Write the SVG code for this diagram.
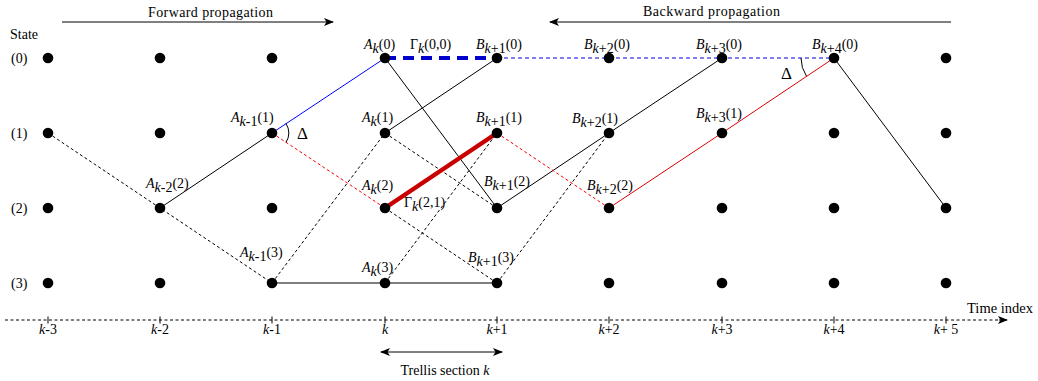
<svg xmlns="http://www.w3.org/2000/svg" width="1038" height="381" viewBox="0 0 1038 381">
<defs>
<style>
text{font-family:"Liberation Serif","Times New Roman",serif;font-size:14px;fill:#000}
.it{font-style:italic}
.dot{fill:#000}
.ln{fill:none;stroke:#000;stroke-width:1}
.dsh{fill:none;stroke:#000;stroke-width:1;stroke-dasharray:3 2.5}
.rd{fill:none;stroke:#f00;stroke-width:1;stroke-dasharray:3 2.5}
.rs{fill:none;stroke:#e00000;stroke-width:1}
.rt{fill:none;stroke:#c80000;stroke-width:4.5}
.bs{fill:none;stroke:#0000ff;stroke-width:1}
.bt{fill:none;stroke:#0000cc;stroke-width:4;stroke-dasharray:11 7}
.bd{fill:none;stroke:#0000dd;stroke-width:1;stroke-dasharray:4 3}
.arr{fill:none;stroke:#000;stroke-width:1}
.dl{font-size:17px}
</style>
<marker id="ah" viewBox="0 0 10 8" refX="9" refY="4" markerWidth="10" markerHeight="8" markerUnits="userSpaceOnUse" orient="auto-start-reverse">
<path d="M0,0 L10,4 L0,8 L2.5,4 Z" fill="#000"/>
</marker>
</defs>
<rect width="1038" height="381" fill="#fff"/>

<g id="headers">
<line class="arr" x1="62" y1="22" x2="333" y2="22" marker-end="url(#ah)"/>
<text x="148" y="17" textLength="125">Forward propagation</text>
<line class="arr" x1="951" y1="22" x2="550" y2="22" marker-end="url(#ah)"/>
<text x="643" y="16" textLength="137">Backward propagation</text>
<text x="10" y="39">State</text>
<text x="11" y="63">(0)</text>
<text x="11" y="138">(1)</text>
<text x="11" y="213">(2)</text>
<text x="11" y="288">(3)</text>
</g>

<g id="connectors">
<path class="dsh" d="M48,133 L160,208 L272,283"/>
<path class="ln" d="M160,208 L272,133"/>
<path class="bs" d="M272,133 L385,58"/>
<path class="rd" d="M272,133 L385,208"/>
<path class="bt" d="M385,58 L497,58"/>
<path class="bd" d="M497,58 L834,58"/>
<path class="ln" d="M385,58 L497,208"/>
<path class="ln" d="M385,133 L497,58"/>
<path class="dsh" d="M385,133 L497,208"/>
<path class="dsh" d="M272,283 L385,133"/>
<path class="rt" d="M385,208 L497,133"/>
<path class="dsh" d="M385,208 L497,283"/>
<path class="dsh" d="M385,283 L497,133"/>
<path class="ln" d="M272,283 L497,283"/>
<path class="dsh" d="M497,283 L609,133"/>
<path class="ln" d="M497,208 L609,133 L722,58"/>
<path class="rd" d="M497,133 L609,208"/>
<path class="rs" d="M609,208 L722,133 L834,58"/>
<path class="ln" d="M834,58 L946,208"/>
<path class="ln" d="M286,123.6 A17,17 0 0 1 286,142.4"/>
<path class="ln" d="M801,58 A33,33 0 0 0 806.5,76.2"/>
<text x="297" y="139" class="dl">Δ</text>
<text x="781" y="79" class="dl">Δ</text>
<text x="410" y="49">Γ<tspan class="it" dy="4">k</tspan><tspan dy="-4">(0,0)</tspan></text>
<text x="404" y="207">Γ<tspan class="it" dy="4">k</tspan><tspan dy="-4">(2,1)</tspan></text>
</g>

<g id="n0_0"><circle class="dot" cx="48" cy="58" r="5.3"/></g>
<g id="n0_1"><circle class="dot" cx="48" cy="133" r="5.3"/></g>
<g id="n0_2"><circle class="dot" cx="48" cy="208" r="5.3"/></g>
<g id="n0_3"><circle class="dot" cx="48" cy="283" r="5.3"/></g>
<g id="n1_0"><circle class="dot" cx="160" cy="58" r="5.3"/></g>
<g id="n1_1"><circle class="dot" cx="160" cy="133" r="5.3"/></g>
<g id="n1_2"><circle class="dot" cx="160" cy="208" r="5.3"/>
<text x="146" y="188"><tspan class="it">A</tspan><tspan class="it" dy="4">k</tspan><tspan>-2</tspan><tspan dy="-4">(2)</tspan></text></g>
<g id="n1_3"><circle class="dot" cx="160" cy="283" r="5.3"/></g>
<g id="n2_0"><circle class="dot" cx="272" cy="58" r="5.3"/></g>
<g id="n2_1"><circle class="dot" cx="272" cy="133" r="5.3"/>
<text x="231" y="122"><tspan class="it">A</tspan><tspan class="it" dy="4">k</tspan><tspan>-1</tspan><tspan dy="-4">(1)</tspan></text></g>
<g id="n2_2"><circle class="dot" cx="272" cy="208" r="5.3"/></g>
<g id="n2_3"><circle class="dot" cx="272" cy="283" r="5.3"/>
<text x="240" y="257"><tspan class="it">A</tspan><tspan class="it" dy="4">k</tspan><tspan>-1</tspan><tspan dy="-4">(3)</tspan></text></g>
<g id="n3_0"><circle class="dot" cx="385" cy="58" r="5.3"/>
<text x="364" y="49"><tspan class="it">A</tspan><tspan class="it" dy="4">k</tspan><tspan dy="-4">(0)</tspan></text></g>
<g id="n3_1"><circle class="dot" cx="385" cy="133" r="5.3"/>
<text x="362" y="122"><tspan class="it">A</tspan><tspan class="it" dy="4">k</tspan><tspan dy="-4">(1)</tspan></text></g>
<g id="n3_2"><circle class="dot" cx="385" cy="208" r="5.3"/>
<text x="362" y="190"><tspan class="it">A</tspan><tspan class="it" dy="4">k</tspan><tspan dy="-4">(2)</tspan></text></g>
<g id="n3_3"><circle class="dot" cx="385" cy="283" r="5.3"/>
<text x="362" y="272"><tspan class="it">A</tspan><tspan class="it" dy="4">k</tspan><tspan dy="-4">(3)</tspan></text></g>
<g id="n4_0"><circle class="dot" cx="497" cy="58" r="5.3"/>
<text x="476" y="49"><tspan class="it">B</tspan><tspan class="it" dy="4">k</tspan><tspan>+1</tspan><tspan dy="-4">(0)</tspan></text></g>
<g id="n4_1"><circle class="dot" cx="497" cy="133" r="5.3"/>
<text x="476" y="122"><tspan class="it">B</tspan><tspan class="it" dy="4">k</tspan><tspan>+1</tspan><tspan dy="-4">(1)</tspan></text></g>
<g id="n4_2"><circle class="dot" cx="497" cy="208" r="5.3"/>
<text x="484" y="186"><tspan class="it">B</tspan><tspan class="it" dy="4">k</tspan><tspan>+1</tspan><tspan dy="-4">(2)</tspan></text></g>
<g id="n4_3"><circle class="dot" cx="497" cy="283" r="5.3"/>
<text x="468" y="262"><tspan class="it">B</tspan><tspan class="it" dy="4">k</tspan><tspan>+1</tspan><tspan dy="-4">(3)</tspan></text></g>
<g id="n5_0"><circle class="dot" cx="609" cy="58" r="5.3"/>
<text x="584" y="49"><tspan class="it">B</tspan><tspan class="it" dy="4">k</tspan><tspan>+2</tspan><tspan dy="-4">(0)</tspan></text></g>
<g id="n5_1"><circle class="dot" cx="609" cy="133" r="5.3"/>
<text x="572" y="123"><tspan class="it">B</tspan><tspan class="it" dy="4">k</tspan><tspan>+2</tspan><tspan dy="-4">(1)</tspan></text></g>
<g id="n5_2"><circle class="dot" cx="609" cy="208" r="5.3"/>
<text x="587" y="190"><tspan class="it">B</tspan><tspan class="it" dy="4">k</tspan><tspan>+2</tspan><tspan dy="-4">(2)</tspan></text></g>
<g id="n5_3"><circle class="dot" cx="609" cy="283" r="5.3"/></g>
<g id="n6_0"><circle class="dot" cx="722" cy="58" r="5.3"/>
<text x="696" y="49"><tspan class="it">B</tspan><tspan class="it" dy="4">k</tspan><tspan>+3</tspan><tspan dy="-4">(0)</tspan></text></g>
<g id="n6_1"><circle class="dot" cx="722" cy="133" r="5.3"/>
<text x="696" y="118"><tspan class="it">B</tspan><tspan class="it" dy="4">k</tspan><tspan>+3</tspan><tspan dy="-4">(1)</tspan></text></g>
<g id="n6_2"><circle class="dot" cx="722" cy="208" r="5.3"/></g>
<g id="n6_3"><circle class="dot" cx="722" cy="283" r="5.3"/></g>
<g id="n7_0"><circle class="dot" cx="834" cy="58" r="5.3"/>
<text x="812" y="49"><tspan class="it">B</tspan><tspan class="it" dy="4">k</tspan><tspan>+4</tspan><tspan dy="-4">(0)</tspan></text></g>
<g id="n7_1"><circle class="dot" cx="834" cy="133" r="5.3"/></g>
<g id="n7_2"><circle class="dot" cx="834" cy="208" r="5.3"/></g>
<g id="n7_3"><circle class="dot" cx="834" cy="283" r="5.3"/></g>
<g id="n8_0"><circle class="dot" cx="946" cy="58" r="5.3"/></g>
<g id="n8_1"><circle class="dot" cx="946" cy="133" r="5.3"/></g>
<g id="n8_2"><circle class="dot" cx="946" cy="208" r="5.3"/></g>
<g id="n8_3"><circle class="dot" cx="946" cy="283" r="5.3"/></g>

<g id="axis">
<line class="dsh" x1="5" y1="320" x2="1000" y2="320"/>
<line class="arr" x1="999" y1="320" x2="1007" y2="320" marker-end="url(#ah)"/>
<path class="ln" d="M48,316.5V323.5M160,316.5V323.5M272,316.5V323.5M385,316.5V323.5M497,316.5V323.5M609,316.5V323.5M722,316.5V323.5M834,316.5V323.5M946,316.5V323.5"/>
<text x="967" y="313" style="font-size:14.5px">Time index</text>
<g text-anchor="middle">
<text x="48" y="334"><tspan class="it">k</tspan>-3</text>
<text x="160" y="334"><tspan class="it">k</tspan>-2</text>
<text x="272" y="334"><tspan class="it">k</tspan>-1</text>
<text x="385" y="334" class="it">k</text>
<text x="497" y="334"><tspan class="it">k</tspan>+1</text>
<text x="609" y="334"><tspan class="it">k</tspan>+2</text>
<text x="722" y="334"><tspan class="it">k</tspan>+3</text>
<text x="834" y="334"><tspan class="it">k</tspan>+4</text>
<text x="946" y="334"><tspan class="it">k</tspan>+ 5</text>
<text x="445" y="375">Trellis section <tspan class="it">k</tspan></text>
</g>
<line class="arr" x1="381" y1="352" x2="502" y2="352" marker-start="url(#ah)" marker-end="url(#ah)"/>
</g>
</svg>
